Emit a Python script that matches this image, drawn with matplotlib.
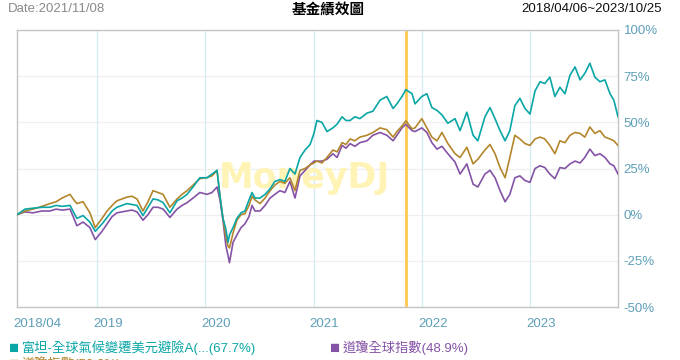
import matplotlib
matplotlib.use("Agg")
import matplotlib.pyplot as plt
import matplotlib.transforms as mtransforms
import pandas as pd

# values (cumulative return, %)
dates = [
    "2018-04-06", "2018-05-03", "2018-05-30", "2018-06-29", "2018-07-26", "2018-08-16", "2018-09-05", "2018-10-02", "2018-10-15", "2018-10-25",
    "2018-11-15", "2018-12-08", "2018-12-26", "2019-01-18", "2019-02-04", "2019-02-21", "2019-03-09", "2019-03-26", "2019-04-12", "2019-04-29",
    "2019-05-16", "2019-06-05", "2019-06-22", "2019-07-09", "2019-07-26", "2019-08-12", "2019-09-04", "2019-09-28", "2019-10-15", "2019-11-01",
    "2019-11-21", "2019-12-14", "2020-01-07", "2020-01-24", "2020-02-10", "2020-02-20", "2020-03-01", "2020-03-11", "2020-03-18", "2020-03-23",
    "2020-04-04", "2020-04-17", "2020-05-01", "2020-05-14", "2020-05-28", "2020-06-07", "2020-06-17", "2020-07-04", "2020-07-21", "2020-08-07",
    "2020-08-23", "2020-09-09", "2020-09-26", "2020-10-13", "2020-10-30", "2020-11-16", "2020-12-03", "2020-12-20", "2021-01-02", "2021-01-12",
    "2021-01-29", "2021-02-15", "2021-03-07", "2021-03-21", "2021-04-07", "2021-04-20", "2021-05-04", "2021-05-20", "2021-06-06", "2021-06-30",
    "2021-07-20", "2021-08-13", "2021-09-05", "2021-09-26", "2021-10-09", "2021-10-26", "2021-11-08", "2021-11-29", "2021-12-09", "2022-01-01",
    "2022-01-18", "2022-02-04", "2022-02-21", "2022-03-10", "2022-03-30", "2022-04-23", "2022-05-10", "2022-06-02", "2022-06-23", "2022-07-09",
    "2022-08-02", "2022-08-19", "2022-09-05", "2022-09-22", "2022-10-09", "2022-10-25", "2022-11-11", "2022-11-28", "2022-12-15", "2023-01-01",
    "2023-01-18", "2023-02-04", "2023-02-20", "2023-03-09", "2023-03-26", "2023-04-12", "2023-04-29", "2023-05-16", "2023-06-02", "2023-06-19",
    "2023-07-05", "2023-07-22", "2023-08-08", "2023-08-25", "2023-09-11", "2023-09-28", "2023-10-11", "2023-10-25",
]

fund = [
    0, 3, 3.5, 4, 4, 5, 4.5, 5, 1, -2,
    -0.5, -4, -9, -5, -1.5, 2, 4, 5, 6, 5.5,
    5, -0.5, 4, 8.5, 8, 6.5, 1, 7.5, 9, 11,
    15, 20, 20, 22, 24, 10, -2, -8, -15, -11,
    -7, -2, 1, 2, 8, 12, 9, 9, 11, 14,
    18, 19, 18, 25, 22, 31, 35, 38, 44, 51,
    50, 45, 47, 49, 53, 51, 51, 53, 52, 55,
    56, 62, 64, 57.5, 60, 64, 67.7, 65.5, 60, 64,
    65.5, 58, 56.5, 54, 49.5, 52, 45.5, 55.5, 43, 40,
    53, 58, 52, 45.5, 40, 45.5, 59, 63, 57.5, 54.5,
    67, 72, 71, 74.5, 64, 69, 65.5, 75.5, 80, 73,
    76.5, 82, 74.5, 72, 73, 65.5, 62, 53,
]

dj = [
    0, 2, 3, 4.5, 6, 7, 9, 11, 8, 6,
    7, 1, -7, -2, 2, 5, 7.5, 8.5, 9.5, 10,
    8.5, 2, 7, 13, 12, 11, 4, 8.5, 11, 13,
    16, 19.5, 20, 21, 24, 10, -2, -12, -17, -18,
    -10, -3, 0, 0.5, 5, 10, 8, 6, 9, 13,
    16, 18, 17, 20, 13, 24, 25, 27, 28, 29,
    28, 31, 35, 34, 39, 38, 41, 40, 42, 43,
    44.5, 47, 46, 42, 45, 48, 50.8, 46.5, 47, 52,
    47, 42, 40, 44.5, 38.5, 33, 31, 36.5, 27.5, 30,
    35, 38, 33, 25.5, 20, 31, 43, 41, 38.5, 37.5,
    41, 42, 41, 37.5, 33, 40, 39, 43, 44.5, 44,
    42, 47.5, 44, 45.5, 42, 41, 40, 37.5,
]

dj_global = [
    0, 1.5, 1, 2, 2, 3, 2.5, 3, -2, -6,
    -4, -7, -13.5, -9, -5, -1, 1, 1.5, 2, 2.5,
    1.5, -3, 0, 4, 4, 3, -1.5, 3, 5, 6.5,
    9, 12, 11, 12, 15, 8, -3, -17, -22, -26,
    -15, -11, -7, -5, -1, 5, 2, 2, 5, 9,
    11, 13, 12, 18, 9, 21, 24, 27, 29, 29,
    29, 30, 33, 31, 37.5, 36, 38.5, 37, 39, 40,
    43, 44.5, 43, 40, 43, 47, 48.9, 45.5, 45, 47,
    44.5, 39, 35.5, 37, 33, 28.5, 22, 27.5, 16.5, 15,
    22, 24, 20, 13, 7, 11, 20, 21, 18.5, 17.5,
    25, 26.5, 25.5, 22, 19.5, 25.5, 25, 27.5, 29, 28,
    31, 35.5, 32, 33, 31, 27.5, 26.5, 22,
]

x_ticks = ["2018-04-06", "2019-01-01", "2020-01-01", "2021-01-01", "2022-01-01", "2023-01-01"]
x_labels = ["2018/04", "2019", "2020", "2021", "2022", "2023"]
y_ticks = [-50, -25, 0, 25, 50, 75, 100]
marker_date = "2021-11-08"

legend_labels = ["富坦-全球氣候變遷美元避險A(...(67.7%)", "道瓊全球指數(48.9%)", "道瓊指數(50.8%)"]

TEAL = "#0aa6a6"
BROWN = "#b3862b"
PURPLE = "#8553a6"
AXIS_BLUE = "#5d9fb8"

plt.rcParams["font.family"] = ["Liberation Sans", "Noto Sans CJK TC", "DejaVu Sans"]

fig = plt.figure(figsize=(6.8, 3.6), dpi=100)
ax = fig.add_axes([17 / 680, 53 / 360, 601 / 680, 277 / 360])

t = pd.to_datetime(dates)
ax.plot(t, dj_global, color=PURPLE, lw=1.2, zorder=3)
ax.plot(t, dj, color=BROWN, lw=1.2, zorder=3)
ax.plot(t, fund, color=TEAL, lw=1.2, zorder=4)

for y in y_ticks[1:-1]:
    ax.axhline(y, color="#efefef", lw=0.9, zorder=0)
for d in x_ticks[1:]:
    ax.axvline(pd.Timestamp(d), color="#d6ebf3", lw=0.9, zorder=0)
ax.axvline(pd.Timestamp(marker_date), color="#ffc94f", lw=2, zorder=2)

# watermark
ax.text(0.479, 0.466, "MoneyDJ", transform=ax.transAxes, ha="center", va="center",
        fontsize=25, fontweight="bold", color="#fff3b5", zorder=1,
        family=["DejaVu Sans"])

ax.set_xlim(pd.Timestamp("2018-04-06"), pd.Timestamp("2023-10-25"))
ax.set_ylim(-50, 100)

ax.yaxis.tick_right()
ax.set_yticks(y_ticks)
ax.set_yticklabels([f"{v}%" for v in y_ticks])
ax.set_xticks(pd.to_datetime(x_ticks))
ax.set_xticklabels(x_labels)
ax.tick_params(axis="y", length=0, pad=4, labelcolor=AXIS_BLUE, labelsize=9.5)
ax.tick_params(axis="x", length=0, pad=8, labelcolor=AXIS_BLUE, labelsize=9.5)
shift = mtransforms.ScaledTranslation(-4 / 100, 0, fig.dpi_scale_trans)
for lab in ax.get_xticklabels():
    lab.set_ha("left")
    lab.set_transform(lab.get_transform() + shift)

for s in ax.spines.values():
    s.set_color("#c4c4c4")
    s.set_linewidth(1)

# header
fig.text(8 / 680, 1 - 9 / 360, "Date:2021/11/08", ha="left", va="center", fontsize=9.5, color="#8a8a8a")
fig.text(328 / 680, 1 - 11 / 360, "基金績效圖", ha="center", va="center", fontsize=10.5, fontweight="bold")
fig.text(662 / 680, 1 - 9 / 360, "2018/04/06~2023/10/25", ha="right", va="center", fontsize=9.5, color="#111111")

# legend (third row is cut off by the lower edge, as in the reference)
legend_pos = [(9, 348), (330, 348), (9, 364)]
for (lx, ly), lab, col in zip(legend_pos, legend_labels, [TEAL, PURPLE, BROWN]):
    fig.text(lx / 680, 1 - ly / 360, "■", ha="left", va="center", fontsize=12, color=col)
    fig.text((lx + 13) / 680, 1 - ly / 360, lab, ha="left", va="center", fontsize=9.5, color=col)

fig.savefig("out.png", dpi=100)
